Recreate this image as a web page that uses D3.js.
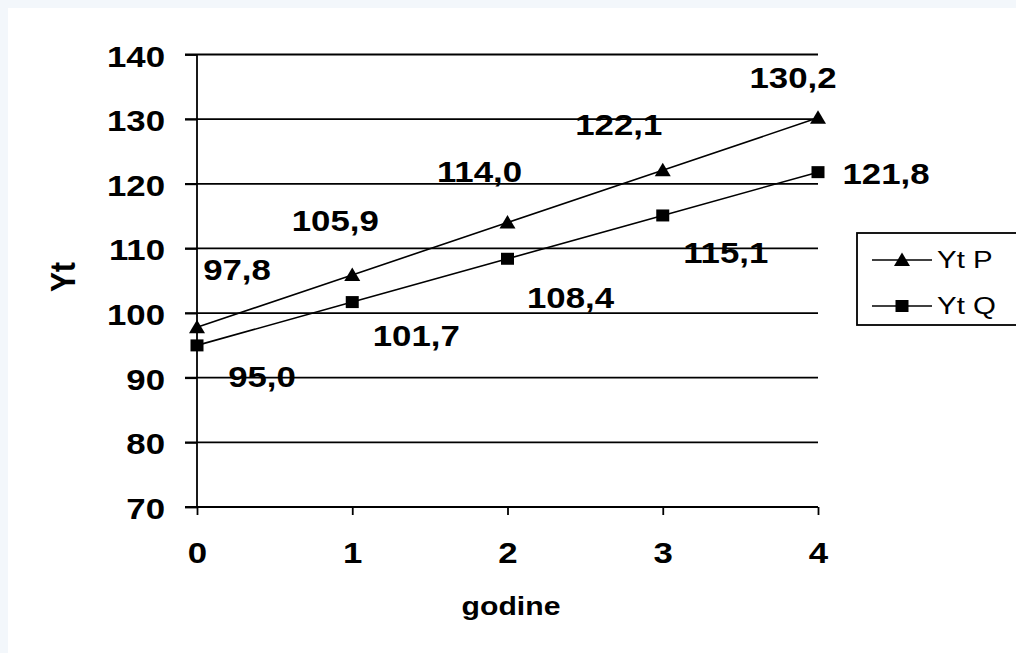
<!DOCTYPE html>
<html>
<head>
<meta charset="utf-8">
<script src="https://cdn.jsdelivr.net/npm/d3@7"></script>
<style>
  body { margin: 0; background: #f3f7fb; }
  svg { display: block; }
</style>
</head>
<body>
<svg id="chart" width="1016" height="653"></svg>
<script>
"use strict";

// data
const years = [0, 1, 2, 3, 4];
const ytP = [97.8, 105.9, 114.0, 122.1, 130.2];
const ytQ = [95.0, 101.7, 108.4, 115.1, 121.8];
const labelsP = ["97,8", "105,9", "114,0", "122,1", "130,2"];
const labelsQ = ["95,0", "101,7", "108,4", "115,1", "121,8"];
const yTicks = [70, 80, 90, 100, 110, 120, 130, 140];

// label offsets (centre x, baseline y) relative to the point
const offP = [[40, -47], [-17, -44], [-28, -41], [-44, -35], [-25, -30]];
const offQ = [[65, 42], [64, 44], [63, 49], [63, 48], [68, 12]];

const svg = d3.select("#chart");
svg.append("rect").attr("x", 8).attr("y", 8).attr("width", 1016).attr("height", 653).attr("fill", "#fff");

const x = d3.scaleLinear().domain([0, 4]).range([197, 818]);
const y = d3.scaleLinear().domain([70, 140]).range([507, 54.5]);

const font = "Arial, 'Liberation Sans', sans-serif";
const SX = 1.16; // picture is a bit wider than tall, text looks stretched

// text that is stretched sideways like in the picture
function txt(g, tx, ty, str, size, bold, anchor, sx) {
  return g.append("text")
    .attr("transform", `translate(${tx},${ty}) scale(${sx || SX},1)`)
    .attr("text-anchor", anchor || "middle")
    .attr("font-family", font).attr("font-size", size)
    .attr("font-weight", bold ? "bold" : "normal")
    .attr("fill", "#000")
    .text(str);
}

// horizontal grid lines
svg.append("g").selectAll("line")
  .data(yTicks.slice(1))
  .enter().append("line")
  .attr("x1", 185).attr("x2", 818)
  .attr("y1", d => y(d)).attr("y2", d => y(d))
  .attr("stroke", "#000").attr("stroke-width", 1.8);

// y axis
const yAxis = svg.append("g")
  .attr("transform", "translate(197,0)")
  .call(d3.axisLeft(y).tickValues(yTicks).tickSize(12));
yAxis.select(".domain").attr("stroke", "#000").attr("stroke-width", 1.8).attr("d", `M0,${y(70)}V${y(140)}`);
yAxis.selectAll(".tick line").attr("stroke-width", 1.8);
yAxis.selectAll(".tick text")
  .attr("x", null).attr("dy", null)
  .attr("transform", `translate(-32,11.5) scale(${SX},1)`)
  .attr("font-family", font).attr("font-size", 30).attr("font-weight", "bold").attr("fill", "#000");

// x axis
const xAxis = svg.append("g")
  .attr("transform", `translate(0,${y(70)})`)
  .call(d3.axisBottom(x).tickValues(years).tickSize(8).tickFormat(d3.format("d")));
xAxis.select(".domain").attr("stroke", "#000").attr("stroke-width", 1.8).attr("d", `M${x(0) - 12},0H${x(4)}`);
xAxis.selectAll(".tick line").attr("stroke-width", 1.8);
xAxis.selectAll(".tick text")
  .attr("y", null).attr("dy", null)
  .attr("transform", `translate(0,56) scale(${SX},1)`)
  .attr("font-family", font).attr("font-size", 30).attr("font-weight", "bold").attr("fill", "#000");

// axis titles
txt(svg, 511, 615, "godine", 26, true);
svg.append("text").attr("transform", `translate(75,277) scale(${SX},1) rotate(-90)`).attr("text-anchor", "middle")
  .attr("font-family", font).attr("font-size", 30).attr("font-weight", "bold").text("Yt");

const line = d3.line().x((d, i) => x(years[i])).y(d => y(d));
const triPath = "M0,-7.5L8,6L-8,6Z";
const sqPath = "M-6.5,-6H6.5V6H-6.5Z";

function drawSeries(vals, labels, offs, shape) {
  svg.append("path").datum(vals).attr("d", line)
    .attr("fill", "none").attr("stroke", "#000").attr("stroke-width", 1.6);
  svg.append("g").selectAll("path")
    .data(vals).enter().append("path")
    .attr("d", shape)
    .attr("transform", (d, i) => `translate(${x(years[i])},${y(d)})`)
    .attr("fill", "#000");
  const lg = svg.append("g");
  vals.forEach((d, i) => {
    txt(lg, x(years[i]) + offs[i][0], y(d) + offs[i][1], labels[i], 30, true);
  });
}
drawSeries(ytP, labelsP, offP, triPath);
drawSeries(ytQ, labelsQ, offQ, sqPath);

// legend
const lg = svg.append("g");
lg.append("rect").attr("x", 857).attr("y", 233).attr("width", 200).attr("height", 92)
  .attr("fill", "#fff").attr("stroke", "#000").attr("stroke-width", 1.8);
[["Yt P", triPath, 260], ["Yt Q", sqPath, 306]].forEach(([name, s, ly]) => {
  lg.append("line").attr("x1", 872).attr("x2", 932).attr("y1", ly).attr("y2", ly)
    .attr("stroke", "#000").attr("stroke-width", 1.6);
  lg.append("path").attr("d", s).attr("transform", `translate(902,${ly})`).attr("fill", "#000");
  txt(lg, 937, ly + 8, name, 23, false, "start", 1.28);
});
</script>
</body>
</html>
